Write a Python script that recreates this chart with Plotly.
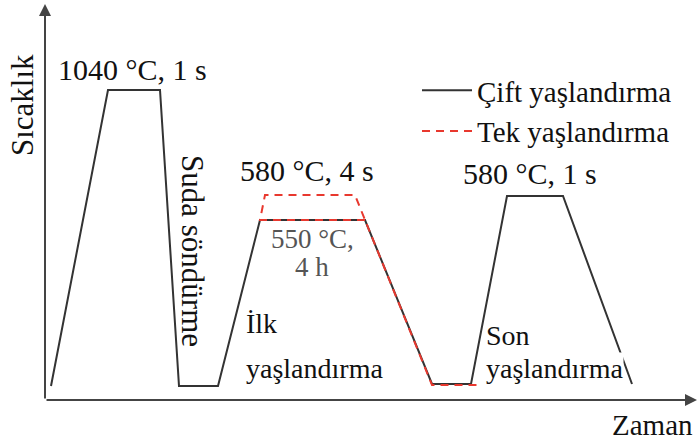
import plotly.graph_objects as go

# Schematic time / temperature units (origin at the axes' crossing)
cift_time = [6, 63, 115, 134, 173, 215, 320, 387, 426, 462, 518, 587]
cift_temp = [14, 310, 310, 14, 14, 180, 180, 16, 16, 204, 204, 16]

tek_time = [320, 215, 220, 310, 320, 387, 435]
tek_temp = [180, 180, 205, 205, 180, 15, 15]

series_names = ["Çift yaşlandırma", "Tek yaşlandırma"]

SERIF = "Liberation Serif, Times New Roman, serif"
TXT = "#111111"

fig = go.Figure()
fig.add_trace(go.Scatter(
    x=cift_time, y=cift_temp, mode="lines", name=series_names[0],
    line=dict(color="#333333", width=2),
))
fig.add_trace(go.Scatter(
    x=tek_time, y=tek_temp, mode="lines", name=series_names[1],
    line=dict(color="#e8382e", width=2, dash="8px,6px"),
))

def label(x, y, text, size=28, color=TXT, xanchor="center", angle=0, bg=None):
    fig.add_annotation(
        x=x, y=y, text=text, showarrow=False, xanchor=xanchor, yanchor="middle",
        textangle=angle, font=dict(family=SERIF, size=size, color=color),
        bgcolor=bg, borderpad=0,
    )

label(87, 331, "1040 °C, 1 s", size=30)
label(262, 230, "580 °C, 4 s", size=30)
label(485, 227, "580 °C, 1 s", size=30)
label(267, 161, "550 °C,", size=27, color="#555555")
label(267, 133, "4 h", size=27, color="#555555")
label(200, 77, "İlk", xanchor="left")
label(200, 32, "yaşlandırma", xanchor="left")
label(440, 65, "Son", xanchor="left")
label(440, 32, "yaşlandırma", xanchor="left", bg="white")
label(148, 149, "Suda söndürme", size=31, angle=90)
label(-23, 295, "Sıcaklık", size=31, angle=-90)
label(607, -25, "Zaman", size=29)

# axes drawn as arrows
for (hx, hy) in [(0, 396), (652, 0)]:
    fig.add_annotation(
        x=hx, y=hy, ax=0, ay=0, axref="x", ayref="y", xref="x", yref="y",
        showarrow=True, arrowhead=2, arrowsize=1.2, arrowwidth=2,
        arrowcolor="#444444", text="",
    )

fig.update_layout(
    width=697, height=441,
    margin=dict(l=0, r=0, t=0, b=0),
    paper_bgcolor="white", plot_bgcolor="white",
    xaxis=dict(range=[-45, 652], visible=False, fixedrange=True),
    yaxis=dict(range=[-41, 400], visible=False, fixedrange=True),
    showlegend=True,
    legend=dict(
        x=417 / 697, y=1 - 65 / 441, xanchor="left", yanchor="top",
        font=dict(family=SERIF, size=29, color=TXT),
        bgcolor="rgba(0,0,0,0)", itemwidth=50, tracegroupgap=0,
    ),
)

fig.write_html("out.html")
